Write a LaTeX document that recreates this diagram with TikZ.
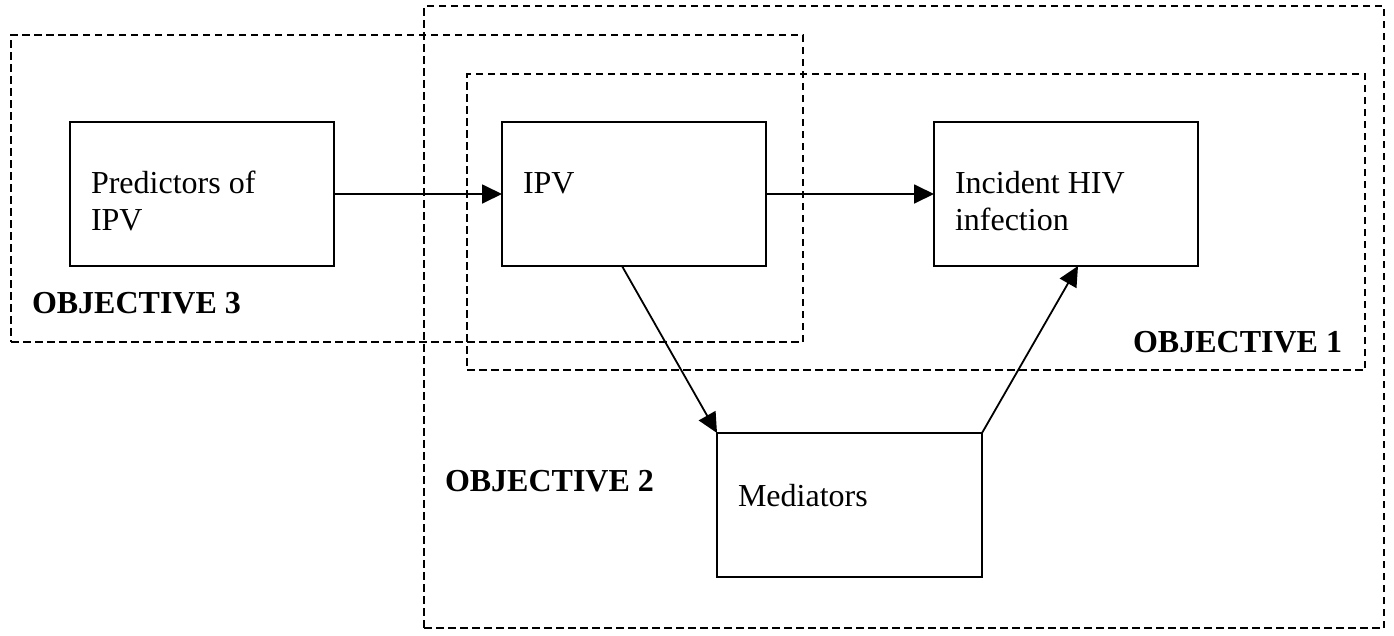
\documentclass[tikz,border=0pt]{standalone}
\usepackage{fontspec}
\setmainfont{Liberation Serif}
\usetikzlibrary{arrows.meta,calc}
\begin{document}
\begin{tikzpicture}[x=1pt,y=-1pt,
  region/.style={draw, line width=1.7pt, dash pattern=on 7.5pt off 4.5pt,
    minimum width=#1, inner sep=0pt, outer sep=0pt},
  stage/.style={draw, line width=2pt, fill=white, minimum width=264pt,
    minimum height=144pt, inner sep=0pt, outer sep=0pt},
  txt/.style={inner sep=0pt, outer sep=0pt, anchor=base west,
    font=\fontsize{32}{37}\selectfont},
  objlbl/.style={txt, font=\fontsize{32}{37}\selectfont\bfseries},
  link/.style={line width=1.8pt, -{Triangle[length=20pt,width=19pt]}}]
\useasboundingbox (0,0) rectangle (1394,635);

% objective regions
\node[region=960pt, minimum height=622pt] (obj2) at (904,317) {};
\node[region=792pt, minimum height=307pt] (obj3) at (407,188.5) {};
\node[region=898pt, minimum height=296pt] (obj1) at (916,222) {};

% stages of the pathway
\node[stage] (pred) at (202,194) {};
\node[stage] (ipv) at (634,194) {};
\node[stage] (hiv) at (1066,194) {};
\node[stage, minimum width=265pt] (med) at (849.5,505) {};

\node[txt] (predA) at (91,193) {Predictors of};
\node[txt] (predB) at (91,230) {IPV};
\node[txt] (ipvA) at (523,193) {IPV};
\node[txt] (hivA) at (955,193) {Incident HIV};
\node[txt] (hivB) at (955,230) {infection};
\node[txt] (medA) at (738,506) {Mediators};

\node[objlbl] (lbl3) at (32,313) {OBJECTIVE 3};
\node[objlbl, anchor=base east] (lbl1) at (1342,352) {OBJECTIVE 1};
\node[objlbl] (lbl2) at (445,491) {OBJECTIVE 2};

% connectors
\draw[link] (pred.east) -- (ipv.west);
\draw[link] (ipv.east) -- (hiv.west);
\draw[link] ($(ipv.south west)+(120,0)$) -- (med.north west);
\draw[link] (med.north east) -- ($(hiv.south west)+(144,0)$);
\end{tikzpicture}
\end{document}
